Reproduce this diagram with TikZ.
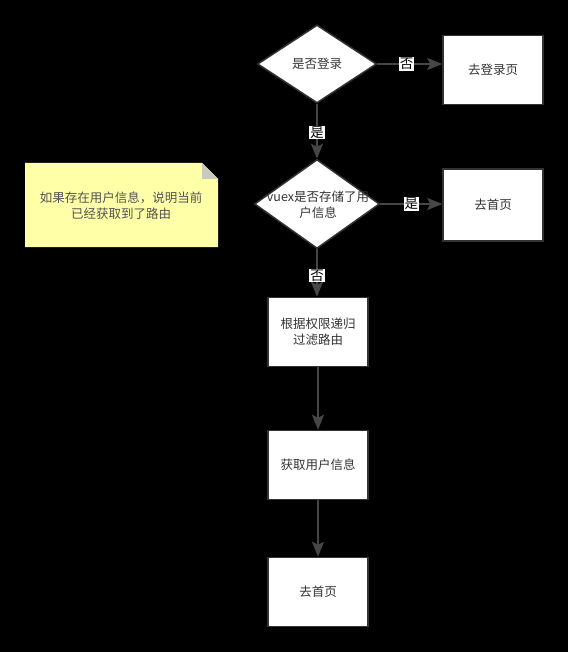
\documentclass[tikz,border=0pt]{standalone}
\usepackage{fontspec}
\setmainfont{Noto Sans CJK SC}
\usetikzlibrary{shapes.geometric,arrows.meta}
\definecolor{linec}{HTML}{333333}
\definecolor{arrc}{HTML}{464646}
\definecolor{txt}{HTML}{333333}
\definecolor{notey}{HTML}{FFFFA8}
\definecolor{fold}{HTML}{C9C9C0}
\tikzset{
  cjk/.style={font=\fontsize{12.5}{16}\selectfont},
  box/.style={draw=linec, line width=1.5pt, fill=white, minimum width=100pt, minimum height=69pt, inner sep=0pt, align=center, text=txt, cjk},
  dia/.style={diamond, draw=linec, line width=1.5pt, fill=white, inner sep=0pt},
  dtext/.style={align=center, text=txt, cjk, inner sep=0pt},
  arr/.style={draw=arrc, line width=2.2pt, -{Stealth[length=15pt,width=12pt,inset=3pt]}},
  lab/.style={fill=white, inner sep=0.8pt, text=black, font=\fontsize{13.5}{16}\selectfont},
}
\begin{document}
\begin{tikzpicture}[x=1pt,y=-1pt]
\useasboundingbox (0,0) rectangle (568,652);
\fill[black] (0,0) rectangle (568,652);

% note
\fill[notey] (25,163) -- (202,163) -- (218,179) -- (218,247) -- (25,247) -- cycle;
\fill[fold] (202,163) -- (218,179) -- (202,179) -- cycle;
\node[align=center, text=txt!85, cjk, inner sep=0pt] (note) at (121,206) {如果存在用户信息，说明当前\\已经获取到了路由};

% nodes
\node[dia, minimum width=119pt, minimum height=78pt] (d1) at (317,64) {};
\node[dtext] (d1t) at (d1) {是否登录};
\node[box] (login) at (493,70) {去登录页};

\node[dia, minimum width=125pt, minimum height=89pt] (d2) at (317,204) {};
\node[dtext] (d2t) at (318,205) {vuex是否存储了用\\户信息};
\node[box, minimum height=72pt] (home1) at (493,205) {去首页};

\node[box] (filter) at (318,332) {根据权限递归\\过滤路由};
\node[box] (info) at (318,465) {获取用户信息};
\node[box] (home2) at (318,592) {去首页};

% connectors
\draw[arr] (d1.east) -- (d1.east -| login.west) node[lab, pos=0.45] {否};
\draw[arr] (d1.south) -- (d2.north) node[lab, pos=0.52] {是};
\draw[arr] (d2.east) -- (d2.east -| home1.west) node[lab, pos=0.5] {是};
\draw[arr] (d2.south) -- (d2.south |- filter.north) node[lab, pos=0.55] {否};
\draw[arr] (filter.south) -- (info.north);
\draw[arr] (info.south) -- (home2.north);
\end{tikzpicture}
\end{document}
